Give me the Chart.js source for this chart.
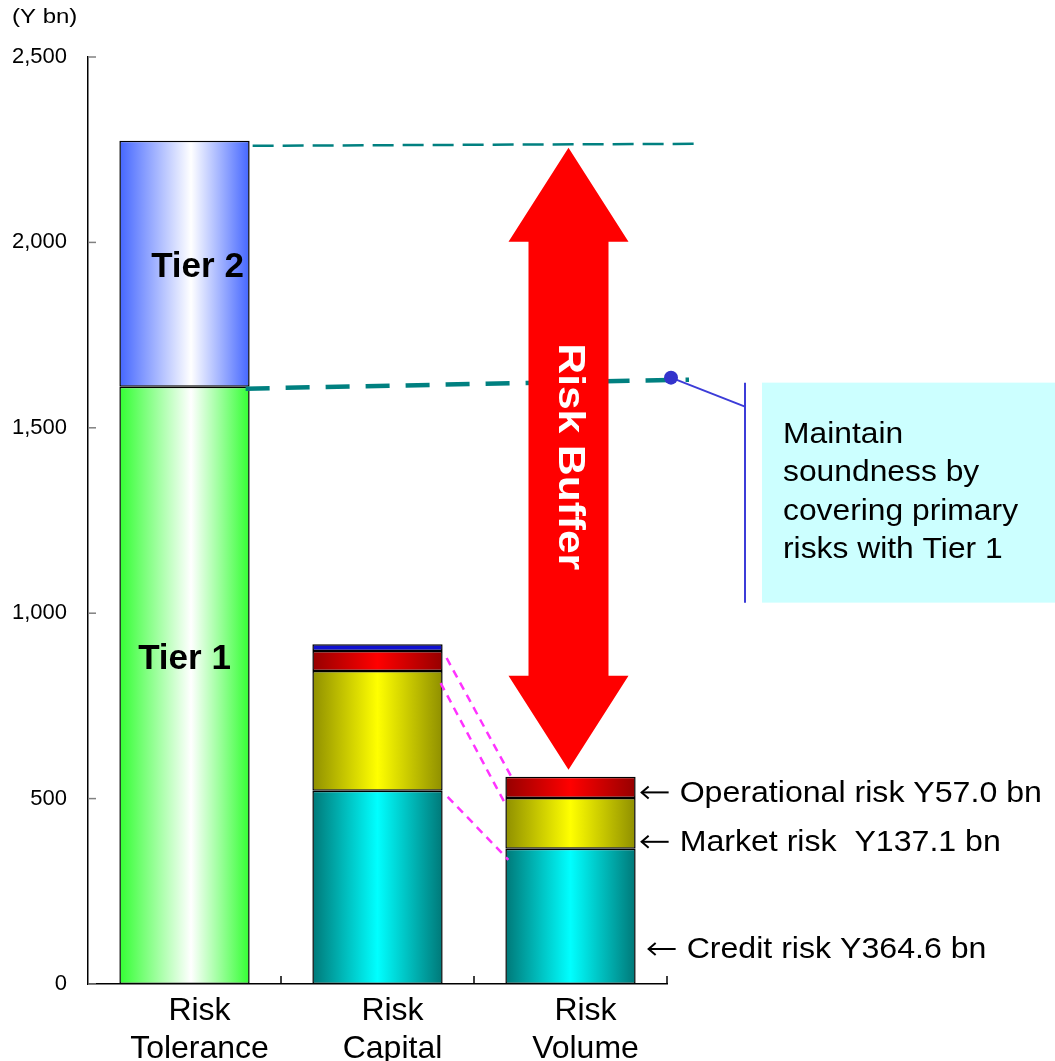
<!DOCTYPE html>
<html><head><meta charset="utf-8">
<script src="https://cdn.jsdelivr.net/npm/chart.js@4/dist/chart.umd.min.js"></script>
<style>html,body{margin:0;padding:0;background:#fff}canvas{display:block}</style>
</head><body>
<canvas id="c" width="1055" height="1061"></canvas>
<script>
const categories = [["Risk","Tolerance"],["Risk","Capital"],["Risk","Volume"]];
const tier1 = [1611, null, null];
const tier2 = [663, null, null];
const creditRisk = [null, 521, 364.6];
const marketRisk = [null, 323, 137.1];
const operationalRisk = [null, 54, 57.0];
const otherRisk = [null, 18, null];
const yTicks = [0, 500, 1000, 1500, 2000, 2500];
const riskLabels = ["Operational risk Y57.0 bn", "Market risk  Y137.1 bn", "Credit risk Y364.6 bn"];
const noteLines = ["Maintain", "soundness by", "covering primary", "risks with Tier 1"];
const unitLabel = "(Y bn)";
const bufferLabel = "Risk Buffer";

const FONT = '"Liberation Sans", Arial, sans-serif';
const BAR_PCT = 0.675;

function grad(edge, mid, peak) {
  return function (c) {
    const chart = c.chart, area = chart.chartArea;
    if (!area || c.type !== 'data' || !chart.scales.x) return mid;
    const xs = chart.scales.x;
    const cx = xs.getPixelForValue(c.dataIndex);
    const w = (area.right - area.left) / categories.length * BAR_PCT;
    const g = chart.ctx.createLinearGradient(cx - w / 2, 0, cx + w / 2, 0);
    g.addColorStop(0, edge);
    g.addColorStop(peak, mid);
    g.addColorStop(1, edge);
    return g;
  };
}

function ds(label, data, bg) {
  return { label, data, backgroundColor: bg, borderColor: '#000', borderWidth: 1.5, borderSkipped: false };
}

function stretchText(ctx, s, x, y, sx) {
  ctx.save();
  ctx.translate(x, y);
  ctx.scale(sx, 1);
  ctx.fillText(s, 0, 0);
  ctx.restore();
}

function leftArrow(ctx, x, y, len) {
  ctx.save();
  ctx.strokeStyle = '#000'; ctx.lineWidth = 2;
  ctx.beginPath(); ctx.moveTo(x + len, y); ctx.lineTo(x + 1, y); ctx.stroke();
  ctx.beginPath(); ctx.moveTo(x + 8, y - 6); ctx.lineTo(x + 1, y); ctx.lineTo(x + 8, y + 6); ctx.stroke();
  ctx.restore();
}

const annot = {
  id: 'annot',
  afterDraw(chart) {
    const ctx = chart.ctx, xs = chart.scales.x, ys = chart.scales.y, a = chart.chartArea;
    const f = (s, b) => (b ? 'bold ' : '') + s + 'px ' + FONT;
    const el = (d, i) => chart.getDatasetMeta(d).data[i];
    ctx.save();
    // y ticks (inside)
    ctx.strokeStyle = '#808080'; ctx.lineWidth = 1.5;
    ys.ticks.forEach(t => {
      const py = ys.getPixelForValue(t.value);
      ctx.beginPath(); ctx.moveTo(a.left, py); ctx.lineTo(a.left + 8, py); ctx.stroke();
    });
    // x ticks at category boundaries
    ctx.strokeStyle = '#000';
    const step = (a.right - a.left) / categories.length;
    for (let i = 1; i <= categories.length; i++) {
      const px = a.left + i * step;
      ctx.beginPath(); ctx.moveTo(px, a.bottom); ctx.lineTo(px, a.bottom - 8); ctx.stroke();
    }
    // unit label
    ctx.fillStyle = '#000'; ctx.font = f(20); ctx.textBaseline = 'middle'; ctx.textAlign = 'left';
    stretchText(ctx, unitLabel, 12, 17, 1.2);

    // Tier labels
    const t1 = el(0, 0), t2 = el(1, 0);
    ctx.font = f(35, true); ctx.textAlign = 'center';
    ctx.fillText('Tier 2', t2.x + 13, ys.getPixelForValue(tier1[0] + tier2[0] * 0.485));
    ctx.fillText('Tier 1', t1.x, ys.getPixelForValue(tier1[0] * 0.543));

    // teal dashed lines
    const right = a.right + 28;
    ctx.strokeStyle = '#008080';
    ctx.lineWidth = 2.5; ctx.setLineDash([21, 9]);
    ctx.beginPath(); ctx.moveTo(t2.x + t2.width / 2 + 3, t2.y + 5); ctx.lineTo(right, t2.y + 3); ctx.stroke();
    ctx.lineWidth = 4.5; ctx.setLineDash([24, 16]);
    ctx.beginPath(); ctx.moveTo(t1.x + t1.width / 2 - 4, t1.y + 2); ctx.lineTo(right - 6, t1.y - 7); ctx.stroke();
    ctx.setLineDash([]);

    // callout
    const dotX = right - 24, dotY = t1.y - 9;
    const vx = 745, boxL = 762, boxT = dotY + 5, boxB = dotY + 225;
    ctx.fillStyle = '#ccffff'; ctx.fillRect(boxL, boxT, chart.width - boxL, boxB - boxT);
    ctx.strokeStyle = '#3c3cd8'; ctx.lineWidth = 2;
    ctx.beginPath(); ctx.moveTo(dotX, dotY); ctx.lineTo(vx, dotY + 29); ctx.stroke();
    ctx.beginPath(); ctx.moveTo(vx, boxT); ctx.lineTo(vx, boxB); ctx.stroke();
    ctx.fillStyle = '#3333cc'; ctx.beginPath(); ctx.arc(dotX, dotY, 7, 0, Math.PI * 2); ctx.fill();
    ctx.fillStyle = '#000'; ctx.font = f(30); ctx.textAlign = 'left';
    noteLines.forEach((s, i) => stretchText(ctx, s, 783, boxT + 52 + i * 38.5, 1.06));

    // pink dashed connectors
    const cOp = el(4, 1), cMk = el(3, 1), cCr = el(2, 1);
    const vOp = el(4, 2), vMk = el(3, 2), vCr = el(2, 2);
    const cR = cCr.x + cCr.width / 2, vL = vCr.x - vCr.width / 2;
    ctx.strokeStyle = '#ff33ff'; ctx.lineWidth = 2.5; ctx.setLineDash([8, 6]);
    [[cR + 4, cOp.y + 7, vL + 6, vOp.y], [cR - 2, cMk.y + 12, vL + 1, vMk.y + 8], [cR + 5, cCr.y + 6, vL + 3, vCr.y + 11]].forEach(p => {
      ctx.beginPath(); ctx.moveTo(p[0], p[1]); ctx.lineTo(p[2], p[3]); ctx.stroke();
    });
    ctx.setLineDash([]);

    // red double arrow
    const cx = vOp.x - 2, top = t2.y + 7, bot = vOp.y - 7, hh = 94, hw = 60, sw = 40;
    ctx.fillStyle = '#ff0000';
    ctx.beginPath();
    ctx.moveTo(cx, top); ctx.lineTo(cx + hw, top + hh); ctx.lineTo(cx + sw, top + hh);
    ctx.lineTo(cx + sw, bot - hh); ctx.lineTo(cx + hw, bot - hh); ctx.lineTo(cx, bot);
    ctx.lineTo(cx - hw, bot - hh); ctx.lineTo(cx - sw, bot - hh); ctx.lineTo(cx - sw, top + hh);
    ctx.lineTo(cx - hw, top + hh); ctx.closePath(); ctx.fill();
    ctx.save();
    ctx.translate(cx, (top + bot) / 2 - 2); ctx.rotate(Math.PI / 2); ctx.scale(1.18, 1);
    ctx.fillStyle = '#fff'; ctx.font = f(36, true); ctx.textAlign = 'center'; ctx.textBaseline = 'middle';
    ctx.fillText(bufferLabel, 0, 0);
    ctx.restore();

    // risk labels
    ctx.fillStyle = '#000'; ctx.font = f(30); ctx.textAlign = 'left'; ctx.textBaseline = 'middle';
    const lx = vCr.x + vCr.width / 2 + 5;
    const ly = [(vOp.y + vMk.y) / 2 + 5, vCr.y - 7, a.bottom - 35];
    const ldx = [0, 0, 7];
    ly.forEach((yy, i) => {
      leftArrow(ctx, lx + ldx[i], yy, 28);
      stretchText(ctx, riskLabels[i], lx + ldx[i] + 39, yy + 1, 1.07);
    });
    ctx.restore();
  }
};

new Chart(document.getElementById('c'), {
  type: 'bar',
  data: {
    labels: categories,
    datasets: [
      ds('Tier 1', tier1, grad('#33ff33', '#ffffff', 0.55)),
      ds('Tier 2', tier2, grad('#4466ff', '#ffffff', 0.55)),
      ds('Credit risk', creditRisk, grad('#007878', '#00ffff', 0.5)),
      ds('Market risk', marketRisk, grad('#8f8f00', '#ffff00', 0.5)),
      ds('Operational risk', operationalRisk, grad('#960000', '#ff0000', 0.5)),
      ds('Other', otherRisk, '#1010d0')
    ]
  },
  options: {
    responsive: false,
    animation: false,
    devicePixelRatio: 1,
    barPercentage: BAR_PCT,
    categoryPercentage: 1,
    layout: { padding: { top: 57, right: 388, left: 0, bottom: 0 } },
    plugins: { legend: { display: false }, tooltip: { enabled: false } },
    scales: {
      x: {
        stacked: true,
        grid: { display: false },
        border: { display: true, color: '#000', width: 1.5 },
        ticks: { font: { size: 32, family: FONT, lineHeight: 1.19 }, color: '#000', padding: 0, labelOffset: 15, maxRotation: 0, autoSkip: false },
        afterFit: s => { s.height = 77; }
      },
      y: {
        stacked: true, min: 0, max: 2500,
        afterBuildTicks: s => { s.ticks = yTicks.map(v => ({ value: v })); },
        grid: { display: false },
        border: { display: true, color: '#000', width: 1.5 },
        ticks: { font: { size: 22, family: FONT }, color: '#000', padding: 13 },
        afterFit: s => { s.width = 88; }
      }
    }
  },
  plugins: [annot]
});
</script>
</body></html>
